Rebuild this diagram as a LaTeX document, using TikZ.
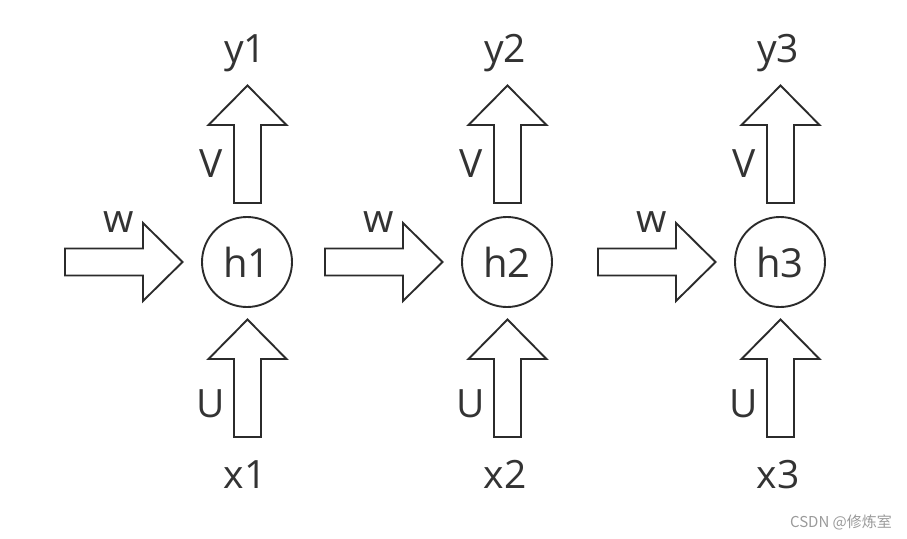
\documentclass[tikz,border=0pt]{standalone}
\usepackage{fontspec}
\setmainfont{Open Sans}
\newfontfamily\cjkfont{Noto Sans CJK SC}
\definecolor{ink}{HTML}{2B2B2B}
\definecolor{txt}{HTML}{333333}
\definecolor{wm}{HTML}{9A9A9A}
\tikzset{
  arrowline/.style={draw=ink, line width=1.9pt, line join=miter, fill=white},
  fat/.pic={\path[arrowline] (0,-13.5) -- (78,-13.5) -- (78,-39) -- (117.5,0) -- (78,39) -- (78,13.5) -- (0,13.5) -- cycle;},
  lbl/.style={anchor=base, inner sep=0pt, text=txt, font=\fontsize{39}{41}\selectfont},
  hnode/.style={circle, draw=ink, line width=1.9pt, minimum size=90pt, inner sep=0pt, text=txt, font=\fontsize{40}{42}\selectfont}
}
\begin{document}
\begin{tikzpicture}[x=1pt,y=-1pt]
\useasboundingbox (0,0) rectangle (907,538);
\foreach \i/\dx in {1/0,2/260,3/533}{
  \begin{scope}[xshift=\dx pt]
    \pic at (65,262) {fat};
    \pic[rotate=90] at (247.5,203) {fat};
    \pic[rotate=90] at (247.5,437) {fat};
    \node[hnode] (h\i) at (247,262) {h\i};
    \node[lbl] (w\i) at (119,232) {w};
    \node[lbl] (v\i) at (211,177) {V};
    \node[lbl] (u\i) at (211,417) {U};
    \node[lbl] (y\i) at (245,62) {y\i};
    \node[lbl] (x\i) at (245,488) {x\i};
  \end{scope}
}
\node[anchor=base, inner sep=0pt, text=wm, font=\cjkfont\fontsize{15}{16}\selectfont] (wmark) at (841,527) {CSDN @修炼室};
\end{tikzpicture}
\end{document}
